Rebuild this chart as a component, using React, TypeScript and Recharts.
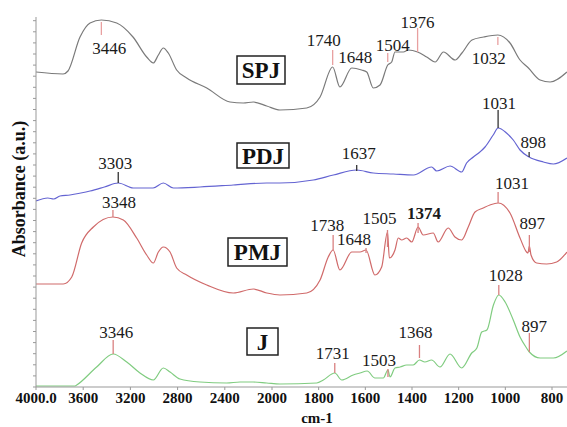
import React from 'react';
import { LineChart, Line, XAxis, YAxis, ReferenceLine, ReferenceDot, ReferenceArea } from 'recharts';

const FONT = '"Liberation Serif", "Times New Roman", serif';

// x tick wavenumbers and labels
const xTicks = [4000, 3600, 3200, 2800, 2400, 2000, 1800, 1600, 1400, 1200, 1000, 800];
const xTickLabels = ['4000.0', '3600', '3200', '2800', '2400', '2000', '1800', '1600', '1400', '1200', '1000', '800'];

// SPJ
const spjWn = [4000, 3771, 3729, 3627, 3542, 3446, 3316, 3178, 3062, 3006, 2963, 2921, 2879, 2808, 2723, 2553, 2356, 2243, 2158, 2045, 1966, 1851, 1794, 1740, 1709, 1658, 1616, 1594, 1566, 1537, 1504, 1487, 1473, 1437, 1416, 1376, 1337, 1301, 1265, 1215, 1186, 1143, 1093, 1032, 980, 937, 901, 851, 808, 736];
const spjVal = [315, 313, 316, 350, 364, 367, 364, 350, 330, 324, 332, 339, 334, 317, 309, 299, 285, 284, 285, 281, 277, 279, 290, 320, 300, 319, 317, 315, 299, 302, 322, 325, 335, 335, 337, 335, 330, 325, 335, 327, 334, 347, 350, 352, 344, 327, 319, 307, 305, 315];

// PDJ
const pdjWn = [4000, 3900, 3850, 3797, 3712, 3620, 3542, 3420, 3303, 3175, 3008, 2921, 2836, 2610, 2328, 2045, 1966, 1823, 1737, 1637, 1566, 1480, 1394, 1316, 1294, 1237, 1187, 1166, 1137, 1109, 1087, 1052, 1031, 995, 966, 937, 898, 837, 794, 736];
const pdjVal = [186, 189, 188, 191, 192, 194, 196, 200, 204, 199, 199, 204, 199, 200, 202, 204, 204, 207, 212, 217, 214, 213, 212, 220, 216, 221, 215, 224, 230, 235, 240, 252, 259, 254, 247, 237, 230, 225, 223, 229];

// PMJ
const pmjWn = [4000, 3769, 3697, 3613, 3514, 3348, 3260, 3147, 3062, 3006, 2963, 2921, 2864, 2808, 2723, 2553, 2328, 2158, 2045, 1966, 1851, 1794, 1759, 1738, 1709, 1658, 1623, 1597, 1559, 1530, 1505, 1497, 1473, 1459, 1444, 1423, 1401, 1374, 1352, 1309, 1288, 1245, 1216, 1187, 1159, 1130, 1095, 1066, 1031, 980, 937, 909, 903, 897, 890, 866, 823, 780, 736];
const pmjVal = [103, 103, 110, 144, 160, 170, 167, 149, 132, 124, 135, 140, 135, 119, 112, 102, 94, 98, 94, 92, 94, 107, 130, 137, 117, 135, 135, 137, 112, 120, 155, 129, 137, 149, 147, 149, 145, 160, 152, 154, 145, 159, 150, 147, 160, 175, 179, 182, 184, 174, 149, 135, 134, 141, 132, 124, 123, 125, 135];

// J
const jWn = [4000, 3669, 3655, 3486, 3346, 3231, 3119, 3006, 2921, 2864, 2780, 2610, 2384, 2271, 2161, 2045, 1966, 1808, 1780, 1731, 1701, 1652, 1623, 1592, 1559, 1523, 1503, 1494, 1473, 1451, 1423, 1395, 1368, 1345, 1316, 1280, 1237, 1187, 1144, 1122, 1101, 1079, 1051, 1028, 1001, 966, 937, 909, 897, 851, 794, 736];
const jVal = [1, 1, 2, 20, 33, 25, 14, 7, 19, 15, 8, 5, 4, 5, 5, 4, 3, 4, 7, 14, 7, 12, 14, 16, 9, 9, 17, 10, 19, 20, 22, 22, 27, 25, 27, 20, 33, 19, 34, 39, 55, 57, 82, 92, 85, 67, 50, 39, 35, 29, 29, 36];

// peak annotations: marker at wn from lo to hi; text offset dx (px) and text centre value ty
const spjPeaks = [
  { text: '3446', wn: 3446, lo: 352, hi: 365, dx: 8, ty: 339 },
  { text: '1740', wn: 1740, lo: 322, hi: 337, dx: -9, ty: 347 },
  { text: '1648', wn: 1648, lo: null, hi: null, dx: 1, ty: 330 },
  { text: '1504', wn: 1504, lo: 325, hi: 334, dx: 5, ty: 342 },
  { text: '1376', wn: 1376, lo: 335, hi: 359, dx: 0, ty: 365 },
  { text: '1032', wn: 1032, lo: 342, hi: 350, dx: -9, ty: 329 },
];
const pdjPeaks = [
  { text: '3303', wn: 3303, lo: 204, hi: 215, dx: -3, ty: 224 },
  { text: '1637', wn: 1637, lo: 216, hi: 222, dx: 2, ty: 234 },
  { text: '1031', wn: 1031, lo: 259, hi: 277, dx: 1, ty: 284 },
  { text: '898', wn: 898, lo: 230, hi: 235, dx: 4, ty: 245 },
];
const pmjPeaks = [
  { text: '3348', wn: 3348, lo: 170, hi: 177, dx: 6, ty: 185 },
  { text: '1738', wn: 1738, lo: 137, hi: 152, dx: -6, ty: 162 },
  { text: '1648', wn: 1597, lo: 134, hi: 139, dx: -12, ty: 148 },
  { text: '1505', wn: 1505, lo: 140, hi: 157, dx: -8, ty: 169 },
  { text: '1374', wn: 1374, lo: 154, hi: 164, dx: 6, ty: 174, bold: true },
  { text: '1031', wn: 1031, lo: 184, hi: 195, dx: 14, ty: 204 },
  { text: '897', wn: 897, lo: 135, hi: 152, dx: 3, ty: 164 },
];
const jPeaks = [
  { text: '3346', wn: 3346, lo: 33, hi: 47, dx: 3, ty: 55 },
  { text: '1731', wn: 1731, lo: 14, hi: 24, dx: -2, ty: 34 },
  { text: '1503', wn: 1503, lo: 10, hi: 18, dx: -9, ty: 27 },
  { text: '1368', wn: 1368, lo: 29, hi: 42, dx: -4, ty: 55 },
  { text: '1028', wn: 1028, lo: 92, hi: 102, dx: 7, ty: 112 },
  { text: '897', wn: 897, lo: 35, hi: 54, dx: 5, ty: 61 },
];

// sample name boxes (axis position units, value units)
const boxes = [
  { name: 'SPJ', x1: 201, x2: 249, y1: 303, y2: 331 },
  { name: 'PDJ', x1: 201, x2: 253, y1: 219, y2: 244 },
  { name: 'PMJ', x1: 192, x2: 251, y1: 121, y2: 149 },
  { name: 'J', x1: 211, x2: 242, y1: 32, y2: 59 },
];

const toPos = (wn: number) => (wn >= 2000 ? (4000 - wn) * 0.118 : 236 + (2000 - wn) * (280 / 1200));

const build = (wn: number[], val: number[]) => wn.map((w, i) => ({ pos: toPos(w), v: val[i] }));

const spjData = build(spjWn, spjVal);
const pdjData = build(pdjWn, pdjVal);
const pmjData = build(pmjWn, pmjVal);
const jData = build(jWn, jVal);

const yTicks = Array.from({ length: 34 }, (_, i) => i * 11.1);

const PeakText = (props: any) => {
  const { viewBox, value, bold } = props;
  const cx = viewBox.x + (viewBox.width || 0) / 2;
  const cy = viewBox.y + (viewBox.height || 0) / 2;
  return (
    <text
      x={cx}
      y={cy}
      textAnchor="middle"
      dominantBaseline="central"
      fontSize={17}
      fontWeight={bold ? 'bold' : 'normal'}
      fontFamily={FONT}
      fill="#1a1a1a"
    >
      {value}
    </text>
  );
};

const renderPeaks = (peaks: any[], color: string, key: string) =>
  peaks.flatMap((p, i) => {
    const x = toPos(p.wn);
    const els: any[] = [];
    if (p.lo != null) {
      els.push(
        <ReferenceLine
          key={`${key}-l-${i}`}
          segment={[{ x, y: p.lo }, { x, y: p.hi }]}
          stroke={color}
          strokeWidth={1.3}
        />
      );
    }
    els.push(
      <ReferenceDot
        key={`${key}-t-${i}`}
        x={x + p.dx}
        y={p.ty}
        r={0}
        fill="none"
        stroke="none"
        label={{
          value: p.text,
          content: (lp: any) => <PeakText {...lp} value={p.text} bold={p.bold} />,
        }}
      />
    );
    return els;
  });

const XTick = (props: any) => {
  const { x, y, payload } = props;
  const i = xTicks.findIndex((t) => Math.abs(toPos(t) - payload.value) < 0.01);
  return (
    <text
      x={x}
      y={y + 11}
      textAnchor="middle"
      fontSize={15}
      fontWeight="bold"
      fontFamily={FONT}
      fill="#111"
    >
      {i >= 0 ? xTickLabels[i] : ''}
    </text>
  );
};

export default function App() {
  return (
    <div style={{ width: 567, height: 427, background: '#fff', fontFamily: FONT }}>
      <style>{'body{margin:0;background:#fff}'}</style>
      <LineChart width={567} height={427} margin={{ top: 17, right: 0, bottom: 0, left: 0 }} style={{ fontFamily: FONT }}>
        <XAxis
          type="number"
          dataKey="pos"
          domain={[0, 531]}
          allowDataOverflow
          ticks={xTicks.map(toPos)}
          interval={0}
          height={40}
          stroke="#999"
          tickSize={3}
          tickMargin={2}
          tick={<XTick />}
          label={{
            content: (props: any) => {
              const vb = props.viewBox || { x: 36, y: 387 };
              return (
                <text
                  x={vb.x + 281}
                  y={vb.y + 36}
                  textAnchor="middle"
                  fontSize={15}
                  fontWeight="bold"
                  fontFamily={FONT}
                  fill="#111"
                >
                  cm-1
                </text>
              );
            },
          }}
        />
        <YAxis
          type="number"
          domain={[0, 370]}
          allowDataOverflow
          width={36}
          ticks={yTicks}
          interval={0}
          tickSize={3}
          stroke="#999"
          tickFormatter={() => ''}
          label={{
            content: () => (
              <text
                x={19}
                y={189}
                transform="rotate(-90 19 189)"
                textAnchor="middle"
                dominantBaseline="central"
                fontSize={18}
                fontWeight="bold"
                fontFamily={FONT}
                fill="#111"
              >
                Absorbance (a.u.)
              </text>
            ),
          }}
        />
        {boxes.map((b) => (
          <ReferenceArea
            key={b.name}
            x1={b.x1}
            x2={b.x2}
            y1={b.y1}
            y2={b.y2}
            fill="#fff"
            fillOpacity={1}
            stroke="#222"
            strokeWidth={1.5}
            label={{
              value: b.name,
              position: 'center',
              fontSize: 23,
              fontWeight: 'bold',
              fill: '#111',
              fontFamily: FONT,
            }}
          />
        ))}
        <Line data={spjData} dataKey="v" type="monotone" stroke="#7a7a7a" strokeWidth={1.2} dot={false} isAnimationActive={false} />
        <Line data={pdjData} dataKey="v" type="monotone" stroke="#6464d2" strokeWidth={1.2} dot={false} isAnimationActive={false} />
        <Line data={pmjData} dataKey="v" type="monotone" stroke="#d06a6a" strokeWidth={1.2} dot={false} isAnimationActive={false} />
        <Line data={jData} dataKey="v" type="monotone" stroke="#80cc80" strokeWidth={1.2} dot={false} isAnimationActive={false} />
        {renderPeaks(spjPeaks, '#e8a0a0', 'spj')}
        {renderPeaks(pdjPeaks, '#333', 'pdj')}
        {renderPeaks(pmjPeaks, '#d98080', 'pmj')}
        {renderPeaks(jPeaks, '#d98080', 'j')}
      </LineChart>
    </div>
  );
}
